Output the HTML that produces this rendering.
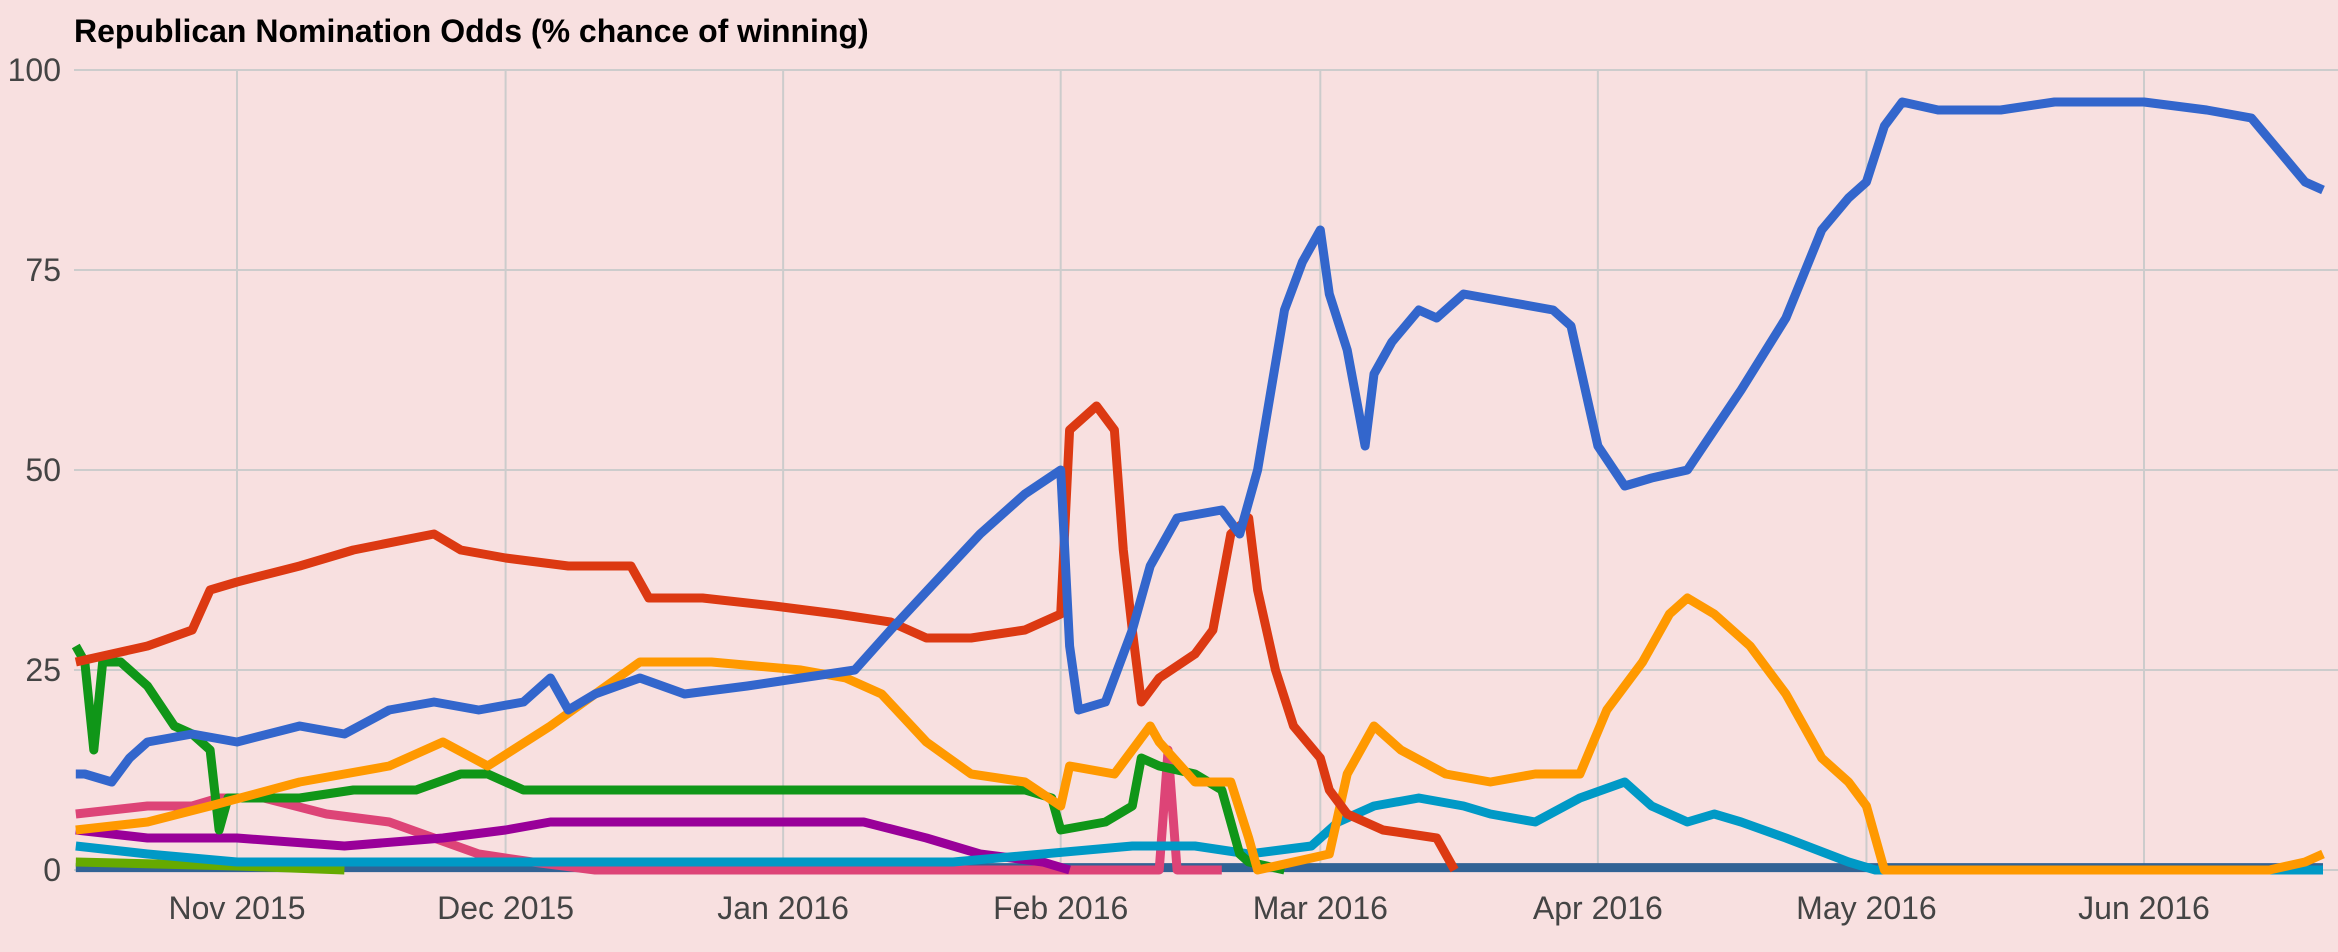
<!DOCTYPE html>
<html><head><meta charset="utf-8"><style>
html,body{margin:0;padding:0;background:#f8e0e0;}
svg{display:block;font-family:"Liberation Sans",sans-serif;}
</style></head><body>
<svg id="chart" width="2338" height="952" viewBox="0 0 2338 952">
<rect x="0" y="0" width="2338" height="952" fill="#f8e0e0"/>
<text x="74" y="42" font-size="32" font-weight="bold" fill="#000">Republican Nomination Odds (% chance of winning)</text>
<g id="grid"></g><g id="series"></g><g id="labels"></g>
</svg>
<script>
const yTicks=[0,25,50,75,100];
const monthLabels=["Nov 2015","Dec 2015","Jan 2016","Feb 2016","Mar 2016","Apr 2016","May 2016","Jun 2016"];
const monthDays=[0,30,61,92,121,152,182,213];
const seriesNames=["other","lightgreen","pink","purple","teal","green","orange","red","blue"];
const seriesColors=["#316395","#66aa00","#dd4477","#990099","#0099c6","#109618","#ff9900","#dc3912","#3366cc"];
const otherDays=[-18,233];
const otherVals=[0.3,0.3];
const lightgreenDays=[-18,0,12];
const lightgreenVals=[1,0.5,0];
const pinkDays=[-18,-10,-5,-2,3,10,17,22,27,33,40,103,104,105,110];
const pinkVals=[7,8,8,9,9,7,6,4,2,1,0,0,15,0,0];
const purpleDays=[-18,-10,0,12,23,30,35,40,60,70,77,83,90,93];
const purpleVals=[5,4,4,3,4,5,6,6,6,6,4,2,1,0];
const tealDays=[-18,-10,0,80,100,107,113,120,123,127,132,137,140,145,150,155,158,162,165,168,173,180,183,233];
const tealVals=[3,2,1,1,3,3,2,3,6,8,9,8,7,6,9,11,8,6,7,6,4,1,0,0];
const greenDays=[-18,-17,-16,-15,-13,-10,-7,-5,-3,-2,-1,7,13,20,25,28,32,40,60,88,91,92,97,100,101,103,107,110,112,113,117];
const greenVals=[28,26,15,26,26,23,18,17,15,5,9,9,10,10,12,12,10,10,10,10,9,5,6,8,14,13,12,10,2,1,0];
const orangeDays=[-18,-10,-3,7,17,23,28,35,40,45,53,63,68,72,77,82,88,92,93,98,102,103,107,111,113,114,122,124,127,130,135,140,145,150,153,157,160,162,165,169,173,177,180,182,184,227,231,233];
const orangeVals=[5,6,8,11,13,16,13,18,22,26,26,25,24,22,16,12,11,8,13,12,18,16,11,11,4,0,2,12,18,15,12,11,12,12,20,26,32,34,32,28,22,14,11,8,0,0,1,2];
const redDays=[-18,-10,-5,-3,0,7,13,22,25,30,37,44,46,52,60,67,73,77,82,88,92,93,96,98,99,100,101,103,107,109,111,113,114,116,118,121,122,124,128,134,136];
const redVals=[26,28,30,35,36,38,40,42,40,39,38,38,34,34,33,32,31,29,29,30,32,55,58,55,40,30,21,24,27,30,42,44,35,25,18,14,10,7,5,4,0];
const blueDays=[-18,-17,-14,-12,-10,-5,0,7,12,17,22,27,32,35,37,40,45,50,57,63,69,73,78,83,88,92,93,94,97,100,102,105,110,112,114,117,119,121,122,124,126,127,129,132,134,137,142,147,149,151,152,155,158,162,165,168,173,177,180,182,184,186,190,197,203,213,220,225,228,231,233];
const blueVals=[12,12,11,14,16,17,16,18,17,20,21,20,21,24,20,22,24,22,23,24,25,30,36,42,47,50,28,20,21,30,38,44,45,42,50,70,76,80,72,65,53,62,66,70,69,72,71,70,68,58,53,48,49,50,55,60,69,80,84,86,93,96,95,95,96,96,95,94,90,86,85];
const allDays=[otherDays,lightgreenDays,pinkDays,purpleDays,tealDays,greenDays,orangeDays,redDays,blueDays];
const allVals=[otherVals,lightgreenVals,pinkVals,purpleVals,tealVals,greenVals,orangeVals,redVals,blueVals];

const NS="http://www.w3.org/2000/svg";
const x0=237, pxDay=8.953, left=74, right=2338;
function xScale(d){return x0+d*pxDay;}
function yScale(v){return 870-v*8;}
const grid=document.getElementById('grid'), labels=document.getElementById('labels'), sg=document.getElementById('series');
yTicks.forEach(t=>{
  const l=document.createElementNS(NS,'line');
  l.setAttribute('x1',left);l.setAttribute('x2',right);l.setAttribute('y1',yScale(t));l.setAttribute('y2',yScale(t));
  l.setAttribute('stroke','#cccccc');l.setAttribute('stroke-width','2');
  
  
  grid.appendChild(l);
  const tx=document.createElementNS(NS,'text');
  tx.setAttribute('x',61);tx.setAttribute('y',yScale(t)+11);tx.setAttribute('text-anchor','end');
  tx.setAttribute('font-size','32');tx.setAttribute('fill','#444');tx.textContent=t;
  
  
  labels.appendChild(tx);
});
monthLabels.forEach((m,i)=>{
  const x=xScale(monthDays[i]);
  const l=document.createElementNS(NS,'line');
  l.setAttribute('x1',x);l.setAttribute('x2',x);l.setAttribute('y1',yScale(100));l.setAttribute('y2',yScale(0));
  l.setAttribute('stroke','#cccccc');l.setAttribute('stroke-width','2');
  
  
  grid.appendChild(l);
  const tx=document.createElementNS(NS,'text');
  tx.setAttribute('x',x);tx.setAttribute('y',919);tx.setAttribute('text-anchor','middle');
  tx.setAttribute('font-size','32');tx.setAttribute('fill','#444');tx.textContent=m;
  
  
  labels.appendChild(tx);
});
allDays.forEach((ds,i)=>{
  const vs=allVals[i];
  const pts=ds.map((d,j)=>xScale(d).toFixed(1)+','+yScale(vs[j]).toFixed(1)).join(' ');
  const p=document.createElementNS(NS,'polyline');
  p.setAttribute('points',pts);p.setAttribute('fill','none');
  p.setAttribute('stroke',seriesColors[i]);p.setAttribute('stroke-width','9');
  p.setAttribute('stroke-linejoin','round');
  
  
  sg.appendChild(p);
});
</script>
</body></html>
